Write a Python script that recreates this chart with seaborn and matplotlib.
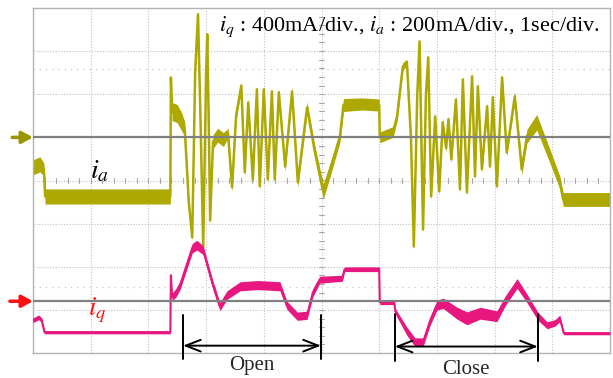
import numpy as np
import pandas as pd
import seaborn as sns
import matplotlib.pyplot as plt

# ---- data ----
# time in seconds (1 sec/div), currents in mA relative to each channel's reference line
ia_t = [0.00, 0.12, 0.19, 0.21, 2.38, 2.39, 2.41, 2.50, 2.58, 2.63, 2.70, 2.76, 2.81, 2.86,
        2.91, 2.95, 3.00, 3.02, 3.05, 3.07, 3.12, 3.20, 3.30, 3.38, 3.45, 3.52, 3.61, 3.67,
        3.73, 3.81, 3.88, 3.93, 4.00, 4.07, 4.14, 4.19, 4.26, 4.37, 4.49, 4.59, 4.75, 4.88,
        5.03, 5.15, 5.25, 5.32, 5.38, 5.70, 6.00, 6.01, 6.24, 6.31, 6.41, 6.48, 6.55, 6.60,
        6.66, 6.70, 6.73, 6.76, 6.81, 6.85, 6.90, 6.97, 7.04, 7.10, 7.16, 7.20, 7.25, 7.33,
        7.40, 7.45, 7.52, 7.61, 7.66, 7.71, 7.78, 7.87, 7.92, 7.97, 8.04, 8.13, 8.21, 8.35,
        8.47, 8.56, 8.73, 8.96, 9.13, 9.19, 10.00]
ia_ma = [-139, -125, -150, -274, -274, 278, 120, 110, 70, 40, -300, -464, 300, 571,
         0, -510, 300, 478, 0, -385, -20, 10, -10, 20, -232, 100, 240, -162,
         162, -195, 223, -227, 223, -195, 213, -195, 209, -135, 213, -209, 139, -60,
         -251, -150, -60, 5, 150, 155, 150, 0, 25, 97, 329, 348, 0, -506,
         200, 445, 0, -427, 200, 371, -274, 97, -250, 70, -50, 84, -102, 176,
         -241, 269, -255, 283, -181, 237, -148, 144, -135, 186, -227, 278, -70, 190,
         -148, 5, 70, -88, -209, -288, -288]
ia_noise = [35, 35, 30, 35, 35, 8, 42, 42, 42, 32, 14, 14, 14, 14,
            14, 14, 14, 14, 14, 14, 32, 32, 32, 22, 18, 18, 18, 18,
            18, 18, 18, 18, 18, 18, 18, 18, 18, 22, 20, 22, 25, 28,
            35, 32, 28, 28, 30, 28, 28, 25, 25, 22, 18, 14, 14, 14,
            14, 14, 14, 14, 14, 14, 16, 18, 18, 18, 18, 18, 18, 18,
            18, 18, 18, 18, 18, 18, 18, 18, 18, 18, 18, 18, 20, 22,
            25, 32, 36, 32, 30, 32, 32]

iq_t = [0.00, 0.10, 0.15, 0.20, 2.38, 2.39, 2.41, 2.48, 2.55, 2.76, 2.84, 2.95, 3.12, 3.24,
        3.36, 3.59, 3.90, 4.28, 4.40, 4.58, 4.75, 4.85, 4.97, 5.36, 5.40, 6.00, 6.01, 6.26,
        6.28, 6.48, 6.62, 6.76, 6.88, 7.00, 7.11, 7.35, 7.52, 7.75, 8.04, 8.18, 8.39, 8.56,
        8.75, 8.91, 9.05, 9.13, 9.20, 10.00]
iq_ma = [-176, -150, -175, -288, -288, 241, 40, 80, 150, 492, 520, 473, 148, -50,
         56, 139, 150, 139, -37, -139, -130, 80, 200, 213, 297, 297, -9, -9,
         -93, -278, -380, -380, -186, -37, -19, -111, -158, -111, -139, 0, 165, 28,
         -139, -223, -200, -158, -297, -297]
iq_noise = [22, 22, 22, 14, 14, 8, 35, 40, 40, 45, 45, 40, 38, 38,
            40, 42, 42, 42, 38, 38, 38, 38, 32, 28, 22, 22, 22, 22,
            25, 38, 40, 40, 40, 45, 48, 55, 60, 55, 50, 45, 45, 40,
            38, 32, 30, 30, 14, 14]

ia_scale, iq_scale = 200, 400        # mA/div
ia_ref, iq_ref = 1.0, -2.8           # reference (zero) level, in divisions
open_span = [2.60, 4.99]
close_span = [6.27, 8.75]
title_text = r'$i_q$ : 400mA/div., $i_a$ : 200mA/div., 1sec/div.'

OLIVE = '#ADA900'
PINK = '#E8177F'

sns.set_theme(style='white')
plt.rcParams['font.family'] = ['Liberation Serif', 'DejaVu Serif']
plt.rcParams['mathtext.fontset'] = 'stix'

fig = plt.figure(figsize=(6.13, 3.78), dpi=100)
ax = fig.add_axes([33 / 613, 1 - 353 / 378, 577 / 613, 345 / 378])
ax.set_xlim(0, 10)
ax.set_ylim(-4, 4)
ax.set_xticks(range(11))
ax.set_yticks(range(-4, 5))
ax.grid(True, color='#C4C4C4', ls=(0, (1, 1.5)), lw=0.8)
ax.tick_params(length=0, labelbottom=False, labelleft=False)
for s in ax.spines.values():
    s.set_color('#B4B4B4')
    s.set_linewidth(1.0)

# faint cursor lines
for yv in (2.58, -2.48):
    ax.axhline(yv, color='#C8C8C8', ls=(0, (1, 4)), lw=0.9)

# minor tick marks on the centre lines
for xv in np.arange(0, 10.001, 0.2):
    ax.plot([xv, xv], [-0.06, 0.06], color='#A8A8A8', lw=0.8)
for yv in np.arange(-4, 4.001, 0.2):
    ax.plot([4.95, 5.05], [yv, yv], color='#A8A8A8', lw=0.8)

ia_df = pd.DataFrame({'t': ia_t, 'v': ia_ref + np.array(ia_ma) / ia_scale,
                      'w': np.array(ia_noise) / ia_scale})
iq_df = pd.DataFrame({'t': iq_t, 'v': iq_ref + np.array(iq_ma) / iq_scale,
                      'w': np.array(iq_noise) / iq_scale})

ax.fill_between(ia_df.t, ia_df.v - ia_df.w, ia_df.v + ia_df.w, color=OLIVE, lw=0, zorder=2)
sns.lineplot(data=ia_df, x='t', y='v', estimator=None, sort=False, color=OLIVE, lw=1.8,
             ax=ax, zorder=2)
ax.fill_between(iq_df.t, iq_df.v - iq_df.w, iq_df.v + iq_df.w, color=PINK, lw=0, zorder=3)
sns.lineplot(data=iq_df, x='t', y='v', estimator=None, sort=False, color=PINK, lw=1.5,
             ax=ax, zorder=3)
ax.set_xlabel('')
ax.set_ylabel('')

# reference lines
ax.axhline(ia_ref, color='#808080', lw=1.6, zorder=5)
ax.axhline(iq_ref, color='#808080', lw=1.6, zorder=5)

# channel markers on the left
ax.annotate('', xy=(0, ia_ref), xytext=(-0.36, ia_ref), annotation_clip=False,
            arrowprops=dict(arrowstyle='-|>,head_width=0.3,head_length=0.55', color='#9A9600',
                            lw=2.5, shrinkA=0, shrinkB=0))
ax.annotate('', xy=(0, iq_ref), xytext=(-0.40, iq_ref), annotation_clip=False,
            arrowprops=dict(arrowstyle='-|>,head_width=0.3,head_length=0.55', color='#FF1010',
                            lw=2.5, shrinkA=0, shrinkB=0))

# labels
ax.text(1.16, 0.21, r'$i_a$', fontsize=20, ha='center', va='center', color='black', zorder=6)
ax.text(1.12, -3.02, r'$i_q$', fontsize=19, ha='center', va='center', color='#FF1010', zorder=6)
ax.text(6.52, 3.57, title_text, fontsize=16, ha='center', va='center', color='black', zorder=6)

# Open / Close brackets
def bracket(span, y_top, y_bot, y_arrow, label, y_text):
    for xv in span:
        ax.plot([xv, xv], [y_top, y_bot], color='black', lw=1.4, clip_on=False, zorder=6)
    ax.annotate('', xy=(span[0], y_arrow), xytext=(span[1], y_arrow), annotation_clip=False,
                arrowprops=dict(arrowstyle='<->,head_width=0.35,head_length=0.9', color='black',
                                lw=1.4, shrinkA=0, shrinkB=0))
    ax.text(sum(span) / 2, y_text, label, fontsize=15, ha='center', va='center',
            clip_on=False, zorder=6)

bracket(open_span, -3.13, -4.15, -3.83, 'Open', -4.29)
bracket(close_span, -3.10, -4.18, -3.85, 'Close', -4.38)

fig.savefig('out.png', dpi=100)
